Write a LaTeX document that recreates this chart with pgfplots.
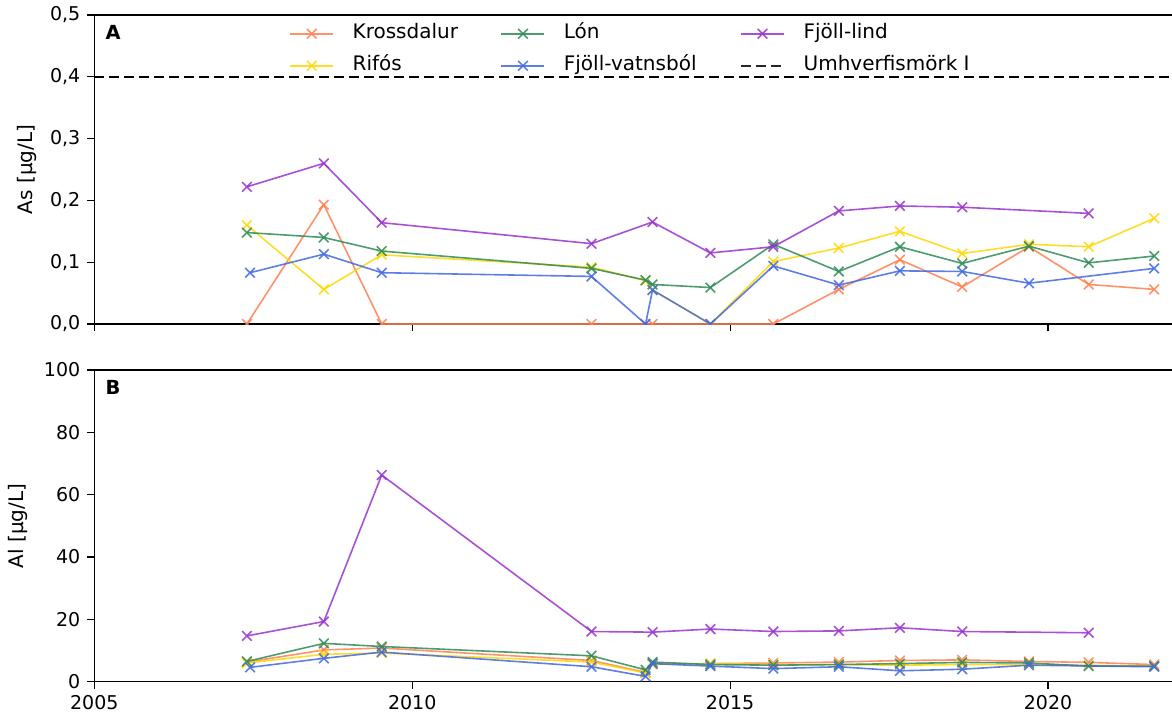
\documentclass[border=0pt]{standalone}
\usepackage{fontspec}
\setmainfont{DejaVu Sans}
\usepackage{pgfplots}
\pgfplotsset{compat=1.18}
\definecolor{ckross}{RGB}{255,127,80}
\definecolor{crif}{RGB}{255,215,0}
\definecolor{clon}{RGB}{46,139,87}
\definecolor{cvat}{RGB}{65,105,225}
\definecolor{clind}{RGB}{153,50,204}
\pgfplotsset{
 myax/.style={
  scale only axis, width=538.85pt, height=154.5pt,
  xmin=2005, xmax=2021.95,
  axis x line*=box, axis y line*=left,
  xtick={2005,2010,2015,2020}, xtick pos=bottom, ytick pos=left,
  tick align=outside, major tick length=3.5pt,
  axis line style={line width=0.6pt},
  every tick/.style={black, line width=0.6pt},
  tick label style={font=\fontsize{9.5}{11}\selectfont},
  label style={font=\fontsize{10}{12}\selectfont},
  /pgf/number format/assume math mode=true,
  xticklabel style={/pgf/number format/1000 sep={}},
  clip marker paths=true,
  every axis plot/.append style={line width=0.8pt, mark=x, mark size=3.4pt, opacity=0.85},
 },
}
\begin{document}
\begin{tikzpicture}
\begin{axis}[myax, at={(47.15pt,197.5pt)}, anchor=south west,
  ymin=0, ymax=0.5, ytick={0,0.1,0.2,0.3,0.4,0.5}, xticklabels={},
  yticklabel style={/pgf/number format/.cd, use comma, fixed, fixed zerofill, precision=1},
  ylabel={As [µg/L]}, ylabel style={at={(axis description cs:-0.0625,0.5)}, anchor=center},
  legend columns=3, legend cell align=left,
  legend style={draw=none, fill=none, at={(0.1806,0.973)}, anchor=north west, inner sep=0pt,
    nodes={inner sep=0pt, text height=7.5pt, text depth=2.5pt, font=\fontsize{10}{12}\selectfont},
    row sep=6pt,
    /tikz/every odd column/.append style={column sep=9.35pt},
    /tikz/every even column/.append style={column sep=0pt}},
  legend image code/.code={\draw[line width=0.8pt, mark repeat=2, mark phase=2] plot coordinates {(0pt,0pt) (10.75pt,0pt) (21.5pt,0pt)};},
]
\addplot[ckross, forget plot] coordinates {(2007.40,0) (2008.61,0.193) (2009.52,0) (2012.82,0) (2013.78,0) (2014.69,0) (2015.68,0) (2016.71,0.056) (2017.67,0.104) (2018.65,0.060) (2019.70,0.125) (2020.64,0.064) (2021.67,0.056)};
\addplot[crif, forget plot] coordinates {(2007.40,0.160) (2008.61,0.056) (2009.52,0.112) (2012.82,0.092) (2013.67,0.070) (2013.78,0.055) (2014.69,0) (2015.68,0.101) (2016.71,0.123) (2017.67,0.150) (2018.65,0.114) (2019.70,0.129) (2020.64,0.125) (2021.67,0.171)};
\addplot[clon, forget plot] coordinates {(2007.40,0.148) (2008.61,0.140) (2009.52,0.118) (2012.82,0.090) (2013.67,0.071) (2013.78,0.064) (2014.69,0.059) (2015.68,0.129) (2016.71,0.085) (2017.67,0.125) (2018.65,0.098) (2019.70,0.126) (2020.64,0.099) (2021.67,0.110)};
\addplot[cvat, forget plot] coordinates {(2007.45,0.083) (2008.61,0.113) (2009.52,0.083) (2012.82,0.077) (2013.67,0) (2013.78,0.055) (2014.69,0) (2015.68,0.094) (2016.71,0.063) (2017.67,0.086) (2018.65,0.085) (2019.70,0.066) (2021.67,0.090)};
\addplot[clind, forget plot] coordinates {(2007.40,0.222) (2008.61,0.260) (2009.52,0.164) (2012.82,0.130) (2013.78,0.165) (2014.69,0.115) (2015.68,0.125) (2016.71,0.183) (2017.67,0.191) (2018.65,0.189) (2020.64,0.179)};
\addplot[black, line width=1pt, dash pattern=on 5pt off 2.5pt, no markers, opacity=1, forget plot] coordinates {(2005,0.4) (2021.95,0.4)};
\addlegendimage{ckross, mark=x, mark size=3.4pt, opacity=0.85}
\addlegendentry{\makebox[74pt][l]{Krossdalur}}
\addlegendimage{clon, mark=x, mark size=3.4pt, opacity=0.85}
\addlegendentry{\makebox[88pt][l]{Lón}}
\addlegendimage{clind, mark=x, mark size=3.4pt, opacity=0.85}
\addlegendentry{Fjöll-lind}
\addlegendimage{crif, mark=x, mark size=3.4pt, opacity=0.85}
\addlegendentry{\makebox[74pt][l]{Rifós}}
\addlegendimage{cvat, mark=x, mark size=3.4pt, opacity=0.85}
\addlegendentry{\makebox[88pt][l]{Fjöll-vatnsból}}
\addlegendimage{black, no markers, legend image code/.code={\draw[line width=1pt, dash pattern=on 5pt off 2.5pt] (0pt,0pt) -- (21.5pt,0pt);}}
\addlegendentry{Umhverfismörk I}
\node[font=\bfseries\fontsize{9.7}{11}\selectfont, anchor=north west, inner sep=0pt, xshift=5.5pt, yshift=-5pt] at (rel axis cs:0,1) {A};
\end{axis}
\begin{axis}[myax, height=155.85pt, at={(47.15pt,18.65pt)}, anchor=south west,
  ymin=0, ymax=100, ytick={0,20,40,60,80,100},
  ylabel={Al [µg/L]}, ylabel style={at={(axis description cs:-0.0708,0.5)}, anchor=center},
]
\addplot[ckross] coordinates {(2007.40,6.3) (2008.61,10.2) (2009.52,10.8) (2012.82,6.8) (2013.67,3.0) (2013.78,5.8) (2014.69,5.8) (2015.68,6.0) (2016.71,6.3) (2017.67,6.8) (2018.65,7.0) (2019.70,6.5) (2020.64,6.2) (2021.67,5.5)};
\addplot[crif] coordinates {(2007.40,6.0) (2008.61,8.8) (2009.52,9.2) (2012.82,6.3) (2013.67,2.8) (2013.78,5.5) (2014.69,5.8) (2015.68,5.5) (2016.71,5.5) (2017.67,5.3) (2018.65,5.5) (2019.70,5.5) (2020.64,5.3) (2021.67,5.0)};
\addplot[clon] coordinates {(2007.40,6.5) (2008.61,12.3) (2009.52,11.3) (2012.82,8.3) (2013.67,3.8) (2013.78,6.3) (2014.69,5.5) (2015.68,5.3) (2016.71,5.5) (2017.67,5.8) (2018.65,6.2) (2019.70,6.0) (2020.64,5.0) (2021.67,5.0)};
\addplot[cvat] coordinates {(2007.45,4.6) (2008.61,7.5) (2009.52,9.5) (2012.82,4.8) (2013.67,1.7) (2013.78,5.8) (2014.69,5.0) (2015.68,4.2) (2016.71,4.8) (2017.67,3.5) (2018.65,4.0) (2019.70,5.3) (2021.67,4.8)};
\addplot[clind] coordinates {(2007.40,14.7) (2008.61,19.3) (2009.52,66.3) (2012.82,16.1) (2013.78,15.9) (2014.69,16.9) (2015.68,16.1) (2016.71,16.3) (2017.67,17.3) (2018.65,16.1) (2020.64,15.7)};
\node[font=\bfseries\fontsize{9.7}{11}\selectfont, anchor=north west, inner sep=0pt, xshift=5.5pt, yshift=-5pt] at (rel axis cs:0,1) {B};
\end{axis}
\pgfresetboundingbox
\useasboundingbox (0,0) rectangle (586pt,359.5pt);
\end{tikzpicture}
\end{document}
